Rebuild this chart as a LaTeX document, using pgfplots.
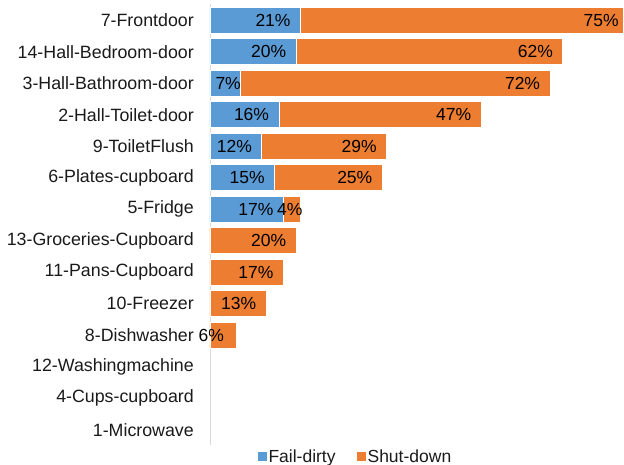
\documentclass[border=0pt]{standalone}
\usepackage{fontspec}
\setmainfont{Liberation Sans}
\usepackage{pgfplots}
\usepackage{pgfplotstable}
\pgfplotsset{compat=1.18}
\definecolor{cblue}{HTML}{5B9BD5}
\definecolor{corange}{HTML}{ED7D31}
\definecolor{axgray}{HTML}{D9D9D9}
\definecolor{txt}{HTML}{1A1A1A}

% y index: 13 = top row (7-Frontdoor), 0 = bottom row (1-Microwave)
% sh = extra horizontal shift (pt) of the value label
\pgfplotstableread{
y  val sh
13 21  0
12 20  0
11 7   10.5
10 16  0
9  12  0
8  15  0
7  17  0
6  0   0
5  0   0
4  0   0
3  0   0
2  0   0
1  0   0
0  0   0
}\faildata

\pgfplotstableread{
y  val sh
13 75  5.5
12 62  0
11 72  0
10 47  0
9  29  0
8  25  0
7  4   12
6  20  0
5  17  0
4  13  0
3  6   -2
2  0   0
1  0   0
0  0   0
}\shutdata

\begin{document}
\begin{tikzpicture}
\begin{axis}[
  name=ax,
  scale only axis,
  width=413pt, height=441pt,
  xmin=0, xmax=96,
  ymin=-0.5, ymax=13.5,
  xbar stacked,
  bar width=26pt,
  axis x line=none,
  axis y line*=left,
  y axis line style={draw=axgray, line width=0.8pt, -},
  ytick={0,...,13},
  yticklabels={1-Microwave,4-Cups-cupboard,12-Washingmachine,8-Dishwasher,10-Freezer,11-Pans-Cupboard,13-Groceries-Cupboard,5-Fridge,6-Plates-cupboard,9-ToiletFlush,2-Hall-Toilet-door,3-Hall-Bathroom-door,14-Hall-Bedroom-door,7-Frontdoor},
  major tick length=0pt,
  yticklabel style={font=\fontsize{17.8}{20}\selectfont, text=txt, anchor=east, inner sep=0pt, xshift=-16pt},
  /pgf/number format/assume math mode=true,
  point meta=explicit,
  visualization depends on={\thisrow{val}*2.151+\thisrow{sh}-9.5\as\lsh},
  nodes near coords={\pgfmathfloatifflags{\pgfplotspointmeta}{0}{}{\pgfmathprintnumber{\pgfplotspointmeta}\%}},
  every node near coord/.append style={font=\fontsize{17.5}{20}\selectfont, text=black, anchor=east, inner sep=0pt, xshift=\lsh pt},
  legend style={at={(0.352,0)}, anchor=center, yshift=-11.5pt, draw=none, fill=none,
    font=\fontsize{17.5}{20}\selectfont, text=txt, legend columns=2, inner sep=0pt,
    /tikz/every even column/.append style={column sep=19pt}},
  legend image code/.code={\fill[#1,draw=none] (0pt,-4.5pt) rectangle (9pt,4.5pt);},
  clip=false,
]
\addplot[fill=cblue, draw=white, line width=0.6pt] table[x=val, y=y, meta=val] {\faildata};
\addplot[fill=corange, draw=white, line width=0.6pt] table[x=val, y=y, meta=val] {\shutdata};
\legend{Fail-dirty, Shut-down}
\end{axis}
\pgfresetboundingbox
\path[use as bounding box] ([xshift=-210pt,yshift=-19.5pt]ax.south west) rectangle ([xshift=414pt,yshift=4.5pt]ax.north west);
\end{tikzpicture}
\end{document}
